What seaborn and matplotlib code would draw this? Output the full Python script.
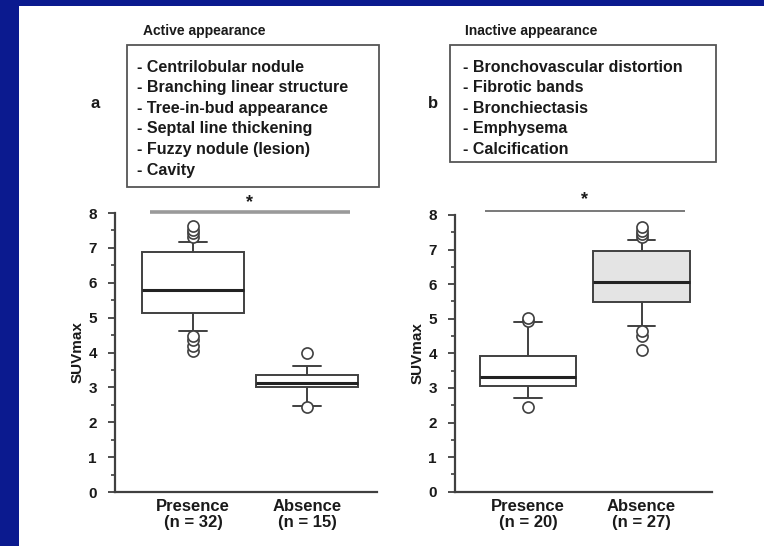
import numpy as np
import pandas as pd
import matplotlib
matplotlib.use("Agg")
import matplotlib.pyplot as plt
from matplotlib.patches import Rectangle
from matplotlib.ticker import MultipleLocator
import seaborn as sns

# --- data ---
groups = ["Presence", "Absence"]
labels_a = ["Presence\n(n = 32)", "Absence\n(n = 15)"]
labels_b = ["Presence\n(n = 20)", "Absence\n(n = 27)"]

# five-number summary per box: lower whisker, Q1, median, Q3, upper whisker
a_presence = [4.63, 5.13, 5.80, 6.88, 7.18]
a_absence = [2.48, 3.00, 3.12, 3.35, 3.62]
b_presence = [2.70, 3.05, 3.33, 3.92, 4.90]
b_absence = [4.80, 5.48, 6.07, 6.95, 7.27]

# outliers beyond the 10th / 90th percentile whiskers
a_presence_out = [4.05, 4.20, 4.35, 4.48, 7.32, 7.42, 7.52, 7.63]
a_absence_out = [2.45, 3.98]
b_presence_out = [2.45, 4.93, 5.02]
b_absence_out = [4.10, 4.50, 4.65, 7.35, 7.45, 7.55, 7.65]

active_items = ["Centrilobular nodule", "Branching linear structure",
                "Tree-in-bud appearance", "Septal line thickening",
                "Fuzzy nodule (lesion)", "Cavity"]
inactive_items = ["Bronchovascular distortion", "Fibrotic bands",
                  "Bronchiectasis", "Emphysema", "Calcification"]

sns.set_style("ticks")
plt.rcParams["font.family"] = ["Liberation Sans", "DejaVu Sans"]
plt.rcParams["font.weight"] = "bold"

W, H = 764, 546
fig = plt.figure(figsize=(W / 100, H / 100), dpi=100)
fig.patch.set_facecolor("#0b1a8f")
fig.patches.append(Rectangle((19 / W, 0), 1, 1 - 6 / H, transform=fig.transFigure,
                             facecolor="white", edgecolor="none", zorder=-5))

def px(x, y):
    return x / W, 1 - y / H

line_col = "#404040"


def panel(rect, box_stats, outliers, ticklabels, fills, width, xlim, sig, sig_color, sig_lw):
    ax = fig.add_axes(rect)
    ax.patch.set_alpha(0)
    box_df = pd.DataFrame({
        "group": np.repeat(groups, 5),
        "value": box_stats[0] + box_stats[1],
    })
    out_df = pd.DataFrame({
        "group": ["Presence"] * len(outliers[0]) + ["Absence"] * len(outliers[1]),
        "value": outliers[0] + outliers[1],
    })
    sns.boxplot(data=box_df, x="group", y="value", hue="group", order=groups,
                palette=dict(zip(groups, fills)), legend=False, whis=(0, 100),
                width=width, saturation=1, linecolor=line_col, linewidth=1.4,
                showfliers=False, capwidths=0.24,
                medianprops=dict(color="#222222", linewidth=2.2), ax=ax)
    sns.stripplot(data=out_df, x="group", y="value", order=groups, jitter=False,
                  color="white", edgecolor=line_col, linewidth=1.2, size=8,
                  zorder=5, ax=ax)
    ax.set_xlim(*xlim)
    ax.set_ylim(0, 8)
    ax.yaxis.set_major_locator(MultipleLocator(1))
    ax.yaxis.set_minor_locator(MultipleLocator(0.5))
    ax.set_xticks([0, 1])
    ax.set_xticklabels(ticklabels, fontsize=12, fontweight="bold", color="#1a1a1a",
                       linespacing=1.1)
    ax.tick_params(axis="x", length=0, pad=5)
    ax.tick_params(axis="y", which="major", length=5, width=1.3, color=line_col,
                   labelsize=11, labelcolor="#1a1a1a", pad=8)
    ax.tick_params(axis="y", which="minor", length=3, width=1.2, color=line_col)
    for lab in ax.get_yticklabels():
        lab.set_fontweight("bold")
    ax.set_xlabel("")
    ax.set_ylabel("SUVmax", fontsize=11, fontweight="bold", color="#1a1a1a", labelpad=3)
    sns.despine(ax=ax)
    for s in ["left", "bottom"]:
        ax.spines[s].set_color(line_col)
        ax.spines[s].set_linewidth(1.6)
    # significance bar
    ax.plot([-sig[0], 1 + sig[0]], [sig[1], sig[1]], color=sig_color, lw=sig_lw,
            clip_on=False, solid_capstyle="butt")
    ax.text(0.5, sig[2], "*", ha="center", va="center", fontsize=13,
            fontweight="bold", color="#1a1a1a", clip_on=False)
    return ax


panel([115 / W, 54 / H, 262 / W, 279 / H],
      [a_presence, a_absence], [a_presence_out, a_absence_out], labels_a,
      ["white", "white"], 0.89, (-0.684, 1.614), (0.377, 8.02, 8.3), "#9a9a9a", 2.6)
panel([455 / W, 54.3 / H, 257 / W, 276.7 / H],
      [b_presence, b_absence], [b_presence_out, b_absence_out], labels_b,
      ["white", "#e4e4e4"], 0.85, (-0.643, 1.62), (0.38, 8.11, 8.45), "#555555", 1.1)

# description boxes above the plots
def desc_box(x0, y0, x1, y1, title, title_x, letter, letter_x, items, text_x):
    fig.patches.append(Rectangle(px(x0, y1), (x1 - x0) / W, (y1 - y0) / H,
                                 transform=fig.transFigure, facecolor="none",
                                 edgecolor="#555555", linewidth=1.3))
    fig.text(*px(title_x, 31), title, fontsize=10, fontweight="bold",
             color="#1a1a1a", va="center", ha="left")
    fig.text(*px(letter_x, 104), letter, fontsize=12, fontweight="bold",
             color="#1a1a1a", va="center", ha="center")
    for i, item in enumerate(items):
        fig.text(*px(text_x, 67 + i * 20.6), "- " + item, fontsize=11.5,
                 fontweight="bold", color="#1a1a1a", va="center", ha="left")


desc_box(127, 45, 379, 187, "Active appearance", 143, "a", 95, active_items, 137)
desc_box(450, 45, 716, 162, "Inactive appearance", 465, "b", 433, inactive_items, 463)

fig.savefig("out.png", dpi=100, facecolor=fig.get_facecolor())
